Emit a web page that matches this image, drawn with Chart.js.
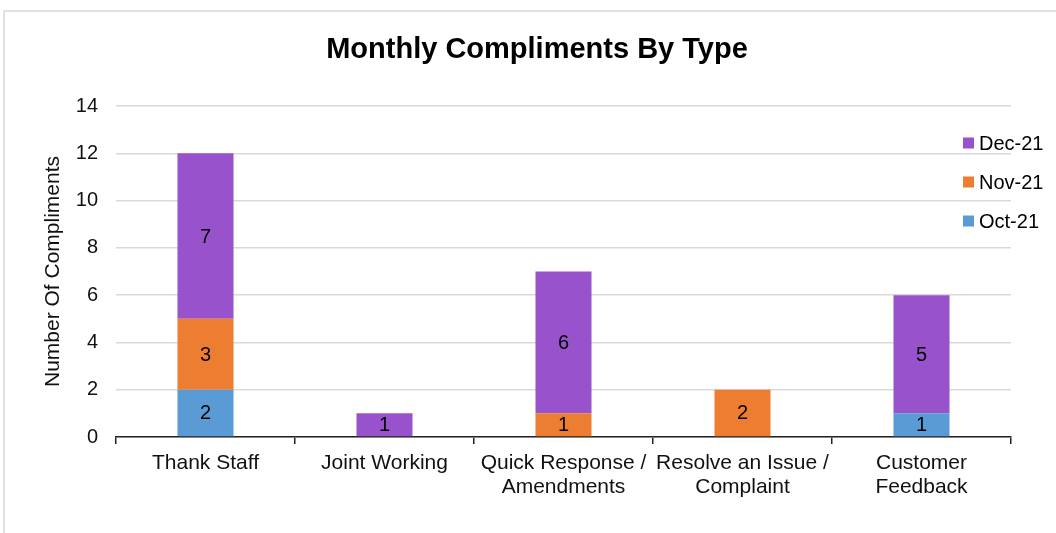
<!DOCTYPE html>
<html>
<head>
<meta charset="utf-8">
<title>Monthly Compliments By Type</title>
<script src="https://cdn.jsdelivr.net/npm/chart.js@4.4.1/dist/chart.umd.min.js"></script>
<style>
    html, body { margin: 0; padding: 0; background: #fff; }
    canvas { display: block; }
</style>
</head>
<body>
<canvas id="compliments-chart" width="1056" height="533"></canvas>
<script>
// compliment counts per type, one array per month
const categories = [
    'Thank Staff',
    'Joint Working',
    ['Quick Response /', 'Amendments'],
    ['Resolve an Issue /', 'Complaint'],
    ['Customer', 'Feedback']
];
const months = ['Oct-21', 'Nov-21', 'Dec-21'];
const oct21 = [2, 0, 0, 0, 1];
const nov21 = [3, 0, 1, 2, 0];
const dec21 = [7, 1, 6, 0, 5];
const yTicks = [0, 2, 4, 6, 8, 10, 12, 14];

const colours = ['#5B9BD5', '#ED7D31', '#9853CC'];
const textColour = '#111';
const fontFamily = "'Liberation Sans', Arial, sans-serif";

Chart.defaults.font.family = fontFamily;
Chart.defaults.color = textColour;

// light frame round the whole chart
const framePlugin = {
    id: 'frame',
    beforeDraw(chart) {
        const ctx = chart.ctx;
        ctx.save();
        ctx.strokeStyle = '#d9d9d9';
        ctx.lineWidth = 1.5;
        ctx.beginPath();
        ctx.moveTo(4, chart.height);
        ctx.lineTo(4, 11);
        ctx.lineTo(chart.width, 11);
        ctx.stroke();
        ctx.restore();
    }
};

const titlePlugin = {
    id: 'chartTitle',
    afterDraw(chart) {
        const ctx = chart.ctx;
        ctx.save();
        ctx.font = 'bold 29px ' + fontFamily;
        ctx.fillStyle = '#000';
        ctx.textAlign = 'center';
        ctx.textBaseline = 'middle';
        ctx.fillText('Monthly Compliments By Type', 537, 50);
        ctx.restore();
    }
};

// value written in the middle of each non-empty segment
const segmentLabels = {
    id: 'segmentLabels',
    afterDatasetsDraw(chart) {
        const ctx = chart.ctx;
        ctx.save();
        ctx.font = '20px ' + fontFamily;
        ctx.fillStyle = '#000';
        ctx.textAlign = 'center';
        ctx.textBaseline = 'middle';
        chart.data.datasets.forEach((ds, i) => {
            chart.getDatasetMeta(i).data.forEach((bar, j) => {
                const v = ds.data[j];
                if (!v) return;
                ctx.fillText(String(v), bar.x, (bar.y + bar.base) / 2 + 1);
            });
        });
        ctx.restore();
    }
};

// legend sits over the right edge of the plot, latest month on top
const sideLegend = {
    id: 'sideLegend',
    afterDraw(chart) {
        const ctx = chart.ctx;
        const items = chart.data.datasets.slice().reverse();
        ctx.save();
        ctx.font = '20px ' + fontFamily;
        ctx.textBaseline = 'middle';
        ctx.textAlign = 'left';
        items.forEach((ds, i) => {
            const y = 143 + i * 39;
            ctx.fillStyle = ds.backgroundColor;
            ctx.fillRect(963, y - 5.5, 11, 11);
            ctx.fillStyle = '#000';
            ctx.fillText(ds.label, 979, y + 1);
        });
        ctx.restore();
    }
};

const ctx = document.getElementById('compliments-chart').getContext('2d');
new Chart(ctx, {
    type: 'bar',
    data: {
        labels: categories,
        datasets: [
            { label: months[0], data: oct21, backgroundColor: colours[0] },
            { label: months[1], data: nov21, backgroundColor: colours[1] },
            { label: months[2], data: dec21, backgroundColor: colours[2] }
        ]
    },
    options: {
        responsive: false,
        animation: false,
        layout: {
            padding: { top: 106, right: 45, bottom: 0, left: 0 }
        },
        datasets: {
            bar: {
                categoryPercentage: 1,
                barPercentage: 0.313,
                borderWidth: 0
            }
        },
        plugins: {
            legend: { display: false },
            title: { display: false },
            tooltip: { enabled: false }
        },
        scales: {
            x: {
                stacked: true,
                afterFit(scale) { scale.height = 96; },
                grid: {
                    offset: true,
                    drawOnChartArea: false,
                    drawTicks: true,
                    tickLength: 7,
                    color: '#222',
                    lineWidth: 1.5
                },
                border: { display: true, color: '#222', width: 1.5 },
                ticks: {
                    font: { size: 21, lineHeight: 1.15 },
                    color: textColour,
                    padding: 7,
                    maxRotation: 0,
                    autoSkip: false
                }
            },
            y: {
                stacked: true,
                min: 0,
                max: 14,
                afterFit(scale) { scale.width = 116; },
                afterBuildTicks(scale) {
                    scale.ticks = yTicks.map(v => ({ value: v }));
                },
                grid: {
                    color: '#d9d9d9',
                    lineWidth: 1.5,
                    drawTicks: false
                },
                border: { display: false },
                ticks: {
                    font: { size: 20 },
                    color: textColour,
                    padding: 18
                },
                title: {
                    display: true,
                    text: 'Number Of Compliments',
                    font: { size: 21 },
                    color: textColour,
                    padding: { top: 41, bottom: 0 }
                }
            }
        }
    },
    plugins: [framePlugin, segmentLabels, sideLegend, titlePlugin]
});
</script>
</body>
</html>
